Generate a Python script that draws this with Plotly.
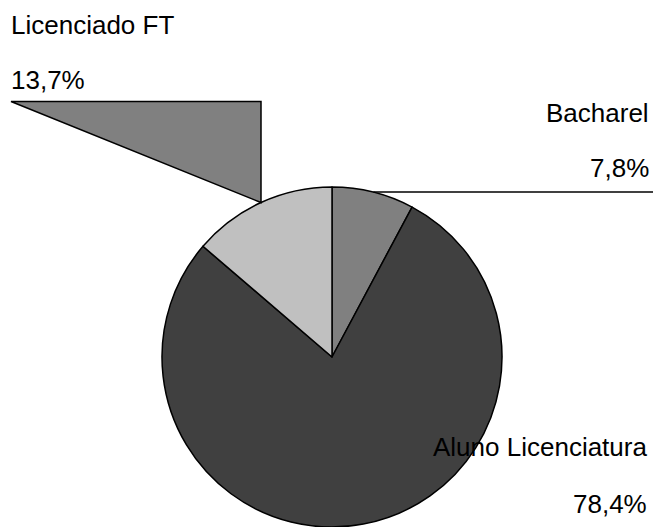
import math
import plotly.graph_objects as go

# Distribution of respondents by academic status
categories = ["Bacharel", "Aluno Licenciatura", "Licenciado FT"]
values = [7.8, 78.4, 13.7]
value_labels = ["7,8%", "78,4%", "13,7%"]
slice_colors = ["#808080", "#404040", "#c0c0c0"]

W, H = 655, 527
FONT = "Liberation Sans, Arial, sans-serif"
FS = 26

# pie placement in pixels
cx, cy, r = 332, 357, 170


def px(x):
    return x / W


def py(y):
    return 1 - y / H


fig = go.Figure()
fig.add_trace(go.Pie(
    labels=categories,
    values=values,
    sort=False,
    direction="clockwise",
    rotation=0,
    marker=dict(colors=slice_colors, line=dict(color="black", width=1.5)),
    textinfo="none",
    hoverinfo="label+percent",
    showlegend=False,
    domain=dict(x=[px(cx - r), px(cx + r)], y=[py(cy + r), py(cy - r)]),
))

# mid-angle anchor points on the rim, derived from the values
total = sum(values)
anchors = []
acc = 0.0
for v in values:
    mid = (acc + v / 2) / total * 2 * math.pi
    anchors.append((cx + r * math.sin(mid), cy - r * math.cos(mid)))
    acc += v

shapes = []
# Bacharel leader: horizontal rule to the right edge
bx, by = anchors[0]
shapes.append(dict(type="line", xref="paper", yref="paper",
                   x0=px(bx), y0=py(by), x1=px(653), y1=py(by),
                   line=dict(color="black", width=1.5)))
# Licenciado FT leader: filled wedge up to the label
lx, ly = anchors[2]
top = 101.5
path = (f"M {px(lx)} {py(ly)} L {px(lx)} {py(top)} "
        f"L {px(11)} {py(top)} Z")
shapes.append(dict(type="path", xref="paper", yref="paper", path=path,
                   fillcolor="#808080", line=dict(color="black", width=1.5)))

annotations = []


def label(text, x, y, anchor):
    annotations.append(dict(text=text, x=px(x), y=py(y), xref="paper", yref="paper",
                            xanchor=anchor, yanchor="middle", showarrow=False,
                            font=dict(family=FONT, size=FS, color="black")))


label(categories[2], 9, 25, "left")
label(value_labels[2], 9, 80, "left")
label(categories[0], 651, 113, "right")
label(value_labels[0], 651, 168, "right")
label(categories[1], 649, 447, "right")
label(value_labels[1], 649, 503.5, "right")

fig.update_layout(
    width=W, height=H,
    margin=dict(l=0, r=0, t=0, b=0),
    paper_bgcolor="white",
    plot_bgcolor="white",
    shapes=shapes,
    annotations=annotations,
)

fig.write_html("out.html")
